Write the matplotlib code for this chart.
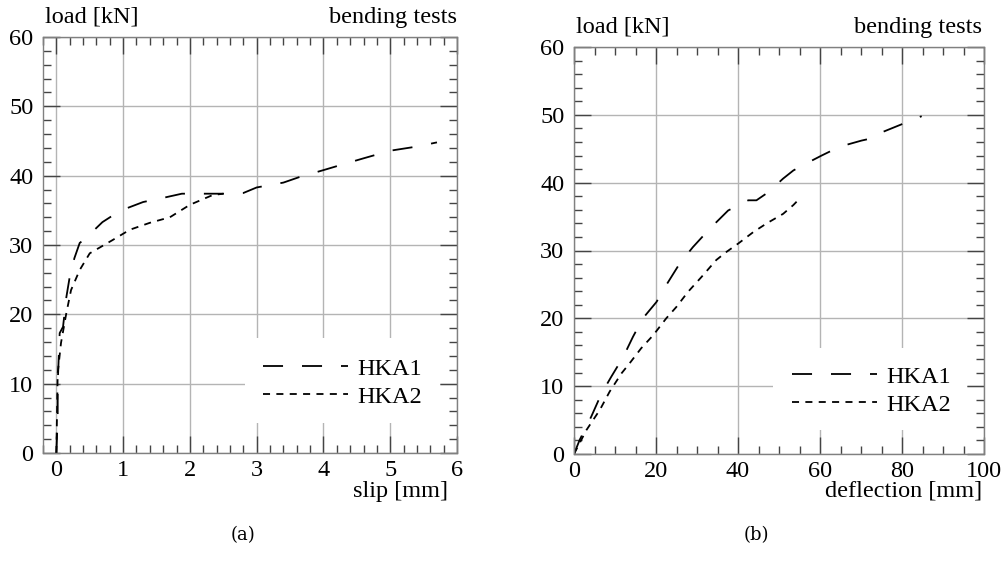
import matplotlib
matplotlib.use("Agg")
import matplotlib.pyplot as plt
from matplotlib.ticker import MultipleLocator
from matplotlib.patches import Rectangle

plt.rcParams['font.family'] = ['Liberation Serif', 'DejaVu Serif']

# ---- data: (a) load vs slip ----
slip_hka1 = [0.0, 0.02, 0.02, 0.05, 0.1, 0.15, 0.2, 0.27, 0.35, 0.42, 0.55, 0.69, 0.9, 1.0, 1.3, 1.6,
             1.88, 2.2, 2.6, 2.8, 3.0, 3.4, 3.64, 4.0, 4.35, 4.6, 5.0, 5.4, 5.7]
load_hka1_a = [0.0, 5.0, 10.0, 17.3, 18.2, 22.5, 25.4, 28.1, 30.3, 30.8, 32.0, 33.3, 34.6, 35.1, 36.2, 36.8,
               37.4, 37.4, 37.4, 37.5, 38.3, 39.0, 39.8, 40.8, 41.8, 42.5, 43.6, 44.2, 44.8]
slip_hka2 = [0.0, 0.02, 0.07, 0.15, 0.22, 0.35, 0.5, 0.84, 1.1, 1.4, 1.7, 2.0, 2.34, 2.5]
load_hka2_a = [0.0, 11.5, 15.9, 20.2, 23.5, 26.4, 28.8, 30.7, 32.2, 33.2, 34.0, 35.8, 37.2, 37.4]

# ---- data: (b) load vs deflection ----
defl_hka1 = [0.0, 1.4, 4.2, 6.7, 9.1, 12.0, 14.4, 16.8, 20.1, 22.5, 25.8, 29.0, 33.1, 35.6, 37.6, 42.5,
             44.5, 47.4, 51.0, 53.5, 55.9, 60.4, 64.8, 70.1, 73.8, 75.4, 80.3, 84.8]
load_hka1_b = [0.0, 2.1, 5.5, 8.9, 11.4, 14.3, 17.3, 20.0, 22.4, 24.9, 28.1, 30.5, 33.2, 34.7, 35.9, 37.4,
               37.4, 38.6, 40.6, 41.8, 42.6, 44.0, 45.3, 46.2, 46.7, 47.5, 48.7, 49.8]
defl_hka2 = [0.0, 3.0, 6.3, 8.7, 11.6, 13.6, 16.4, 19.3, 22.5, 25.0, 27.8, 31.1, 34.7, 37.2, 40.0, 43.7,
             47.0, 51.0, 53.5, 55.1]
load_hka2_b = [0.0, 3.5, 6.5, 9.2, 11.9, 13.4, 15.6, 17.5, 20.0, 21.7, 23.9, 26.1, 28.6, 29.8, 31.0, 32.7,
               34.0, 35.4, 36.7, 37.7]

series_names = ["HKA1", "HKA2"]
y_label = "load [kN]"
title_right = "bending tests"
x_labels = ["slip [mm]", "deflection [mm]"]
captions = ["(a)", "(b)"]

fig = plt.figure(figsize=(10.02, 5.75), dpi=100)
W, H = 1002, 575
axA = fig.add_axes([43 / W, 1 - 453 / H, (457 - 43) / W, (453 - 37) / H])
axB = fig.add_axes([574 / W, 1 - 454 / H, (984 - 574) / W, (454 - 47) / H])

FS = 17.5
lw = 1.3
dash1 = (0, (11.1, 10.5))
dash2 = (0, (3.9, 3.5))
gridc = '#b4b4b4'
spinec = '#808080'


def style(ax, xmax, xmin, xmaj, xmin_step):
    ax.set_xlim(xmin, xmax)
    ax.set_ylim(0, 60)
    ax.xaxis.set_major_locator(MultipleLocator(xmaj))
    ax.xaxis.set_minor_locator(MultipleLocator(xmin_step))
    ax.yaxis.set_major_locator(MultipleLocator(10))
    ax.yaxis.set_minor_locator(MultipleLocator(2))
    ax.tick_params(which='both', direction='in', top=True, right=True, colors='#444444',
                   labelcolor='black', labelsize=FS)
    ax.tick_params(which='major', length=12, width=1.0)
    ax.tick_params(which='minor', length=6, width=1.0)
    ax.tick_params(axis='y', pad=7)
    ax.tick_params(axis='x', pad=5)
    ax.grid(True, which='major', color=gridc, linewidth=1.0)
    ax.set_axisbelow(True)
    for s in ax.spines.values():
        s.set_color(spinec)
        s.set_linewidth(1.0)


style(axA, 6, -0.2, 1, 0.2)
style(axB, 100, 0, 20, 5)

axA.plot(slip_hka1, load_hka1_a, color='black', lw=lw, linestyle=dash1, label=series_names[0])
axA.plot(slip_hka2, load_hka2_a, color='black', lw=lw, linestyle=dash2, label=series_names[1])
axB.plot(defl_hka1, load_hka1_b, color='black', lw=lw, linestyle=dash1, label=series_names[0])
axB.plot(defl_hka2, load_hka2_b, color='black', lw=lw, linestyle=dash2, label=series_names[1])

# white legend boxes (axes fraction) and legend anchors
boxes = [(0.488, 0.072, 0.959 - 0.488, 0.276 - 0.072), (0.485, 0.059, 0.959 - 0.485, 0.260 - 0.059)]
anchors = [(0.531, 0.169), (0.532, 0.155)]
for ax, box, anc in zip((axA, axB), boxes, anchors):
    ax.add_patch(Rectangle(box[:2], box[2], box[3], transform=ax.transAxes, facecolor='white',
                           edgecolor='none', zorder=1.5))
    ax.legend(loc='center left', bbox_to_anchor=anc, fontsize=FS, frameon=False,
              handlelength=3.5, handletextpad=0.37, labelspacing=0.25, borderpad=0.0,
              borderaxespad=0.0)

# header texts
fig.text(45 / W, 1 - 17 / H, y_label, fontsize=FS, ha='left', va='center')
fig.text(457 / W, 1 - 17 / H, title_right, fontsize=FS, ha='right', va='center')
fig.text(576 / W, 1 - 27 / H, y_label, fontsize=FS, ha='left', va='center')
fig.text(982 / W, 1 - 27 / H, title_right, fontsize=FS, ha='right', va='center')

fig.text(448 / W, 1 - 491 / H, x_labels[0], fontsize=FS, ha='right', va='center')
fig.text(982 / W, 1 - 491 / H, x_labels[1], fontsize=FS, ha='right', va='center')

fig.text(243 / W, 1 - 535 / H, captions[0], fontsize=13, ha='center', va='center',
         family=['DejaVu Serif'])
fig.text(756 / W, 1 - 535 / H, captions[1], fontsize=13, ha='center', va='center',
         family=['DejaVu Serif'])

fig.savefig("out.png", dpi=100, facecolor='white')
